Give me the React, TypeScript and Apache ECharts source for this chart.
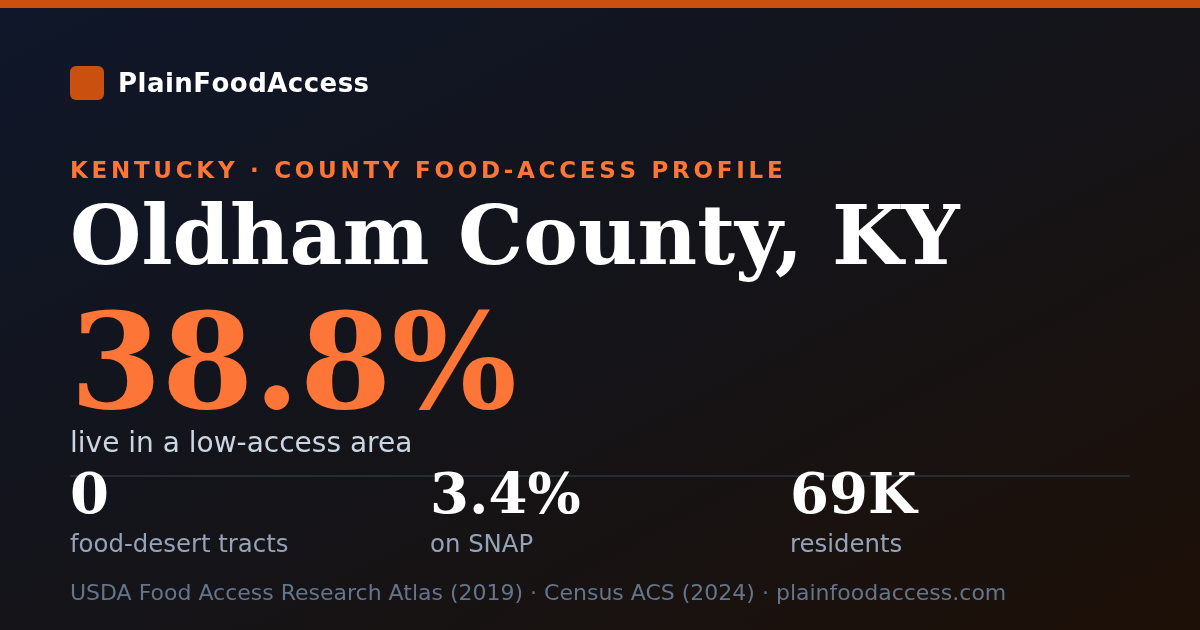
import React, { useEffect, useRef } from "react";
import * as echarts from "echarts";

const brand = "PlainFoodAccess";
const kicker = "KENTUCKY · COUNTY FOOD-ACCESS PROFILE";
const title = "Oldham County, KY";
const headlineValue = "38.8%";
const headlineLabel = "live in a low-access area";
const statValues = ["0", "3.4%", "69K"];
const statLabels = ["food-desert tracts", "on SNAP", "residents"];
const footer = "USDA Food Access Research Atlas (2019) · Census ACS (2024) · plainfoodaccess.com";

const SANS = "'DejaVu Sans'";
const SERIF = "'DejaVu Serif'";
const ORANGE = "#fd7537";
const DARK_ORANGE = "#c9500e";

// convert alphabetic baseline to middle y
const mid = (baseline: number, fs: number) => baseline - 0.35 * fs;

export default function App() {
  const ref = useRef<HTMLDivElement>(null);
  useEffect(() => {
    if (!ref.current) return;
    const chart = echarts.init(ref.current, null, { renderer: "svg", width: 1200, height: 630 });
    const canvas = document.createElement("canvas");
    const ctx = canvas.getContext("2d");

    const measure = (s: string, font: string) => {
      if (!ctx) return s.length * 10;
      ctx.font = font;
      return ctx.measureText(s).width;
    };

    // text drawn character by character, with spacing fitted to a width
    const spaced = (
      str: string,
      x: number,
      baseline: number,
      fs: number,
      family: string,
      weight: string,
      fill: string,
      width: number
    ) => {
      const font = `${weight} ${fs}px ${family}`;
      const chars = Array.from(str);
      const spacing = chars.length > 1 ? (width - measure(str, font)) / (chars.length - 1) : 0;
      const els: any[] = [];
      let cx = x;
      for (const ch of chars) {
        els.push({
          type: "text",
          x: cx,
          y: mid(baseline, fs),
          style: { text: ch, fill, font, verticalAlign: "middle", align: "left" },
        });
        cx += measure(ch, font) + spacing;
      }
      return els;
    };

    const plain = (str: string, x: number, baseline: number, fs: number, family: string, weight: string, fill: string) => ({
      type: "text",
      x,
      y: mid(baseline, fs),
      style: { text: str, fill, font: `${weight} ${fs}px ${family}`, verticalAlign: "middle", align: "left" },
    });

    const statEls: any[] = [];
    statValues.forEach((v, i) => {
      const x = 70 + i * 360;
      statEls.push(plain(v, x, 513, 56, SERIF, "bold", "#ffffff"));
      statEls.push(plain(statLabels[i], x, 552, 24.4, SANS, "normal", "#94a3b8"));
    });

    chart.setOption({
      animation: false,
      graphic: [
        {
          type: "rect",
          shape: { x: 0, y: 0, width: 1200, height: 630 },
          style: {
            fill: new echarts.graphic.LinearGradient(0, 0, 1, 1, [
              { offset: 0, color: "#0f172a" },
              { offset: 0.5, color: "#141419" },
              { offset: 1, color: "#1d1007" },
            ]),
          },
        },
        { type: "rect", shape: { x: 0, y: 0, width: 1200, height: 8 }, style: { fill: DARK_ORANGE } },
        { type: "rect", shape: { x: 70, y: 66, width: 34, height: 34, r: 6 }, style: { fill: DARK_ORANGE } },
        ...spaced(brand, 118, 92, 26, SANS, "bold", "#ffffff", 250),
        ...spaced(kicker, 70, 178, 23, SANS, "bold", ORANGE, 712),
        plain(title, 70, 264, 82, SERIF, "bold", "#ffffff"),
        plain(headlineValue, 70, 408, 132, SERIF, "bold", ORANGE),
        plain(headlineLabel, 70, 452, 28, SANS, "normal", "#cbd5e1"),
        {
          type: "line",
          shape: { x1: 70, y1: 476, x2: 1130, y2: 476 },
          style: { stroke: "#272c37", lineWidth: 2 },
        },
        ...statEls,
        plain(footer, 70, 600, 22, SANS, "normal", "#64748b"),
      ],
    });
    return () => chart.dispose();
  }, []);
  return <div ref={ref} style={{ position: "fixed", left: 0, top: 0, width: 1200, height: 630 }} />;
}
